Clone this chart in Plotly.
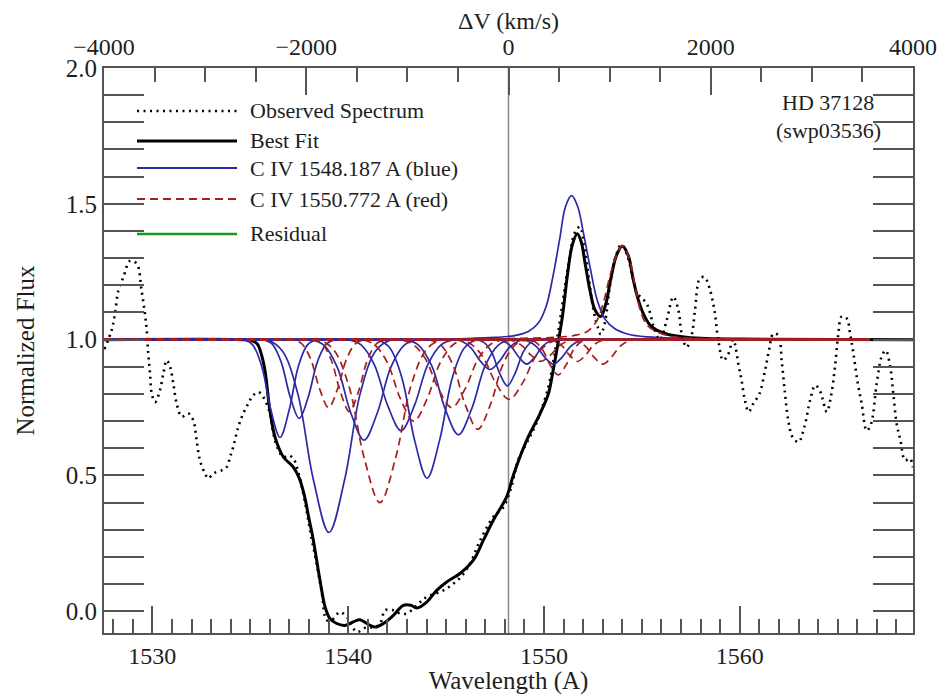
import plotly.graph_objects as go

# ---------------- constants / data ----------------
REST_BLUE = 1548.187          # C IV blue line rest wavelength (A) -> dV = 0
C_KMS = 299792.458
VEL_RANGE = [-4000, 4000]
WAVE_START = 1527.53
WAVE_END = 1568.85
COMP_END = 1566.65
BASE = 1.0

# observed spectrum (dotted)
OBS_X = [1527.55, 1527.92, 1528.09, 1528.26, 1528.52, 1528.86, 1529.2, 1529.45, 1529.62, 1529.71,
         1529.79, 1529.88, 1529.97, 1530.14, 1530.39, 1530.56, 1530.73, 1530.9, 1531.07, 1531.24,
         1531.5, 1531.84, 1532.09, 1532.26, 1532.43, 1532.69, 1532.86, 1533.11, 1533.54, 1533.8,
         1533.97, 1534.13, 1534.39, 1534.64, 1534.9, 1535.15, 1535.41, 1535.66, 1536.01, 1536.18,
         1536.4, 1536.69, 1536.99, 1537.25, 1537.42, 1537.6, 1537.85, 1538.1, 1538.4, 1538.65,
         1538.91, 1539.2, 1539.58, 1540.0, 1540.44, 1540.95, 1541.3, 1541.63, 1541.89, 1542.31,
         1542.65, 1543.0, 1543.68, 1544.02, 1544.87, 1545.38, 1545.8, 1546.23, 1546.74, 1547.41,
         1547.93, 1548.3, 1548.7, 1549.12, 1549.6, 1550.2, 1550.5, 1550.75, 1551.0, 1551.3,
         1551.55, 1551.83, 1552.05, 1552.3, 1552.55, 1552.75, 1552.9, 1553.1, 1553.35, 1553.6,
         1553.95, 1554.25, 1554.5, 1554.75, 1554.95, 1555.24, 1555.41, 1555.6, 1555.92, 1556.26,
         1556.6, 1556.86, 1557.03, 1557.28, 1557.54, 1557.71, 1557.96, 1558.2, 1558.45, 1558.7,
         1558.9, 1559.15, 1559.4, 1559.66, 1559.95, 1560.09, 1560.26, 1560.45, 1560.69, 1561.0,
         1561.29, 1561.5, 1561.71, 1561.97, 1562.14, 1562.31, 1562.48, 1562.7, 1563.0, 1563.3,
         1563.6, 1563.85, 1564.1, 1564.44, 1564.65, 1564.86, 1565.03, 1565.2, 1565.46, 1565.63,
         1565.8, 1566.0, 1566.22, 1566.48, 1566.7, 1566.99, 1567.24, 1567.45, 1567.67, 1567.84,
         1568.01, 1568.2, 1568.44, 1568.69, 1568.84]
OBS_Y = [0.965, 1.035, 1.096, 1.18, 1.23, 1.29, 1.28, 1.18, 1.096, 1.035,
         0.949, 0.875, 0.80, 0.77, 0.814, 0.875, 0.924, 0.90, 0.838, 0.765,
         0.716, 0.728, 0.703, 0.63, 0.556, 0.507, 0.489, 0.507, 0.519, 0.531,
         0.568, 0.605, 0.679, 0.728, 0.765, 0.795, 0.807, 0.789, 0.728, 0.654,
         0.60, 0.568, 0.574, 0.556, 0.519, 0.47, 0.38, 0.28, 0.17, 0.07,
         -0.033, -0.03, -0.003, -0.027, -0.076, -0.058, -0.06, -0.045, 0.004, 0.004,
         -0.008, -0.008, 0.034, 0.053, 0.077, 0.102, 0.13, 0.176, 0.261, 0.347,
         0.384, 0.45, 0.56, 0.62, 0.69, 0.82, 0.93, 1.04, 1.16, 1.30,
         1.39, 1.415, 1.35, 1.22, 1.10, 1.045, 1.02, 1.06, 1.19, 1.29,
         1.35, 1.31, 1.24, 1.17, 1.157, 1.133, 1.10, 1.047, 1.0, 1.07,
         1.157, 1.11, 1.022, 0.972, 1.016, 1.108, 1.225, 1.23, 1.19, 1.11,
         0.998, 0.924, 0.945, 1.0, 0.90, 0.85, 0.777, 0.734, 0.765, 0.80,
         0.887, 0.965, 1.022, 1.016, 0.92, 0.80, 0.70, 0.64, 0.623, 0.68,
         0.78, 0.832, 0.81, 0.734, 0.79, 0.90, 1.02, 1.085, 1.078, 1.022,
         0.95, 0.85, 0.765, 0.665, 0.69, 0.838, 0.937, 0.96, 0.905, 0.80,
         0.69, 0.63, 0.556, 0.562, 0.53]

# best fit (solid black)
FIT_X = [1527.53, 1534.6, 1535.0, 1535.35, 1535.55, 1535.75, 1536.0, 1536.26, 1536.69, 1537.2,
         1537.5, 1537.75, 1538.0, 1538.2, 1538.56, 1538.82, 1539.07, 1539.41, 1539.84, 1540.26,
         1540.6, 1540.95, 1541.37, 1541.8, 1542.31, 1542.82, 1543.2, 1543.5, 1544.01, 1544.52,
         1545.03, 1545.71, 1546.39, 1546.9, 1547.41, 1548.09, 1548.43, 1549.12, 1549.8, 1550.22,
         1550.45, 1550.7, 1550.95, 1551.2, 1551.45, 1551.7, 1551.9, 1552.1, 1552.35, 1552.6,
         1552.9, 1553.15, 1553.4, 1553.7, 1554.0, 1554.3, 1554.56, 1554.8, 1555.07, 1555.4,
         1555.75, 1556.3, 1556.95, 1558.0, 1560.0, 1568.85]
FIT_Y = [1.0, 1.0, 0.998, 0.985, 0.95, 0.887, 0.74, 0.642, 0.568, 0.531,
         0.49, 0.43, 0.34, 0.27, 0.114, 0.016, -0.027, -0.045, -0.052, -0.039,
         -0.031, -0.045, -0.058, -0.045, -0.015, 0.022, 0.022, 0.012, 0.034, 0.077,
         0.108, 0.139, 0.188, 0.261, 0.335, 0.421, 0.50, 0.63, 0.728, 0.80,
         0.88, 0.98, 1.09, 1.24, 1.35, 1.39, 1.36, 1.28, 1.18, 1.11,
         1.085, 1.13, 1.22, 1.31, 1.345, 1.31, 1.22, 1.15, 1.096, 1.055,
         1.035, 1.02, 1.012, 1.005, 1.002, 1.0]

# C IV 1548.187 components (solid blue): absorption dips
BLUE_ABS_X = [
    [1534.20, 1534.66, 1535.13, 1535.59, 1536.06, 1536.52, 1536.98, 1537.45, 1537.91, 1538.38, 1538.84],
    [1535.18, 1535.64, 1536.11, 1536.57, 1537.04, 1537.50, 1537.96, 1538.43, 1538.89, 1539.36, 1539.82],
    [1535.02, 1535.82, 1536.62, 1537.42, 1538.22, 1539.02, 1539.82, 1540.62, 1541.42, 1542.22, 1543.02],
    [1537.41, 1538.09, 1538.77, 1539.45, 1540.13, 1540.81, 1541.49, 1542.17, 1542.85, 1543.53, 1544.21],
    [1539.30, 1539.98, 1540.66, 1541.34, 1542.02, 1542.70, 1543.38, 1544.06, 1544.74, 1545.42, 1546.10],
    [1540.83, 1541.47, 1542.11, 1542.75, 1543.39, 1544.03, 1544.67, 1545.31, 1545.95, 1546.59, 1547.23],
    [1542.23, 1542.91, 1543.59, 1544.27, 1544.95, 1545.63, 1546.31, 1546.99, 1547.67, 1548.35, 1549.03],
    [1544.84, 1545.32, 1545.80, 1546.28, 1546.76, 1547.24, 1547.72, 1548.20, 1548.68, 1549.16, 1549.64],
    [1546.13, 1546.53, 1546.93, 1547.33, 1547.73, 1548.13, 1548.53, 1548.93, 1549.33, 1549.73, 1550.13],
    [1547.12, 1547.52, 1547.92, 1548.32, 1548.72, 1549.12, 1549.52, 1549.92, 1550.32, 1550.72, 1551.12],
    [1548.28, 1548.72, 1549.16, 1549.60, 1550.04, 1550.48, 1550.92, 1551.36, 1551.80, 1552.24, 1552.68],
]
BLUE_ABS_Y = [
    [1.0, 1.0, 0.980, 0.900, 0.739, 0.64, 0.739, 0.900, 0.980, 1.0, 1.0],
    [1.0, 1.0, 0.984, 0.919, 0.789, 0.71, 0.789, 0.919, 0.984, 1.0, 1.0],
    [1.0, 1.0, 0.960, 0.803, 0.485, 0.29, 0.485, 0.803, 0.960, 1.0, 1.0],
    [1.0, 1.0, 0.979, 0.897, 0.731, 0.63, 0.731, 0.897, 0.979, 1.0, 1.0],
    [1.0, 1.0, 0.981, 0.907, 0.757, 0.665, 0.757, 0.907, 0.981, 1.0, 1.0],
    [1.0, 1.0, 0.971, 0.858, 0.630, 0.49, 0.630, 0.858, 0.971, 1.0, 1.0],
    [1.0, 1.0, 0.980, 0.903, 0.746, 0.65, 0.746, 0.903, 0.980, 1.0, 1.0],
    [1.0, 1.0, 0.994, 0.969, 0.920, 0.89, 0.920, 0.969, 0.994, 1.0, 1.0],
    [1.0, 1.0, 0.990, 0.953, 0.877, 0.83, 0.877, 0.953, 0.990, 1.0, 1.0],
    [1.0, 1.0, 0.995, 0.975, 0.935, 0.91, 0.935, 0.975, 0.995, 1.0, 1.0],
    [1.0, 1.0, 0.995, 0.975, 0.935, 0.91, 0.935, 0.975, 0.995, 1.0, 1.0],
]
# blue emission component
BLUE_EM_X = [1527.53, 1543.0, 1546.0, 1547.5, 1548.5, 1549.2, 1549.7, 1550.1, 1550.45, 1550.8,
             1551.1, 1551.41, 1551.72, 1552.02, 1552.37, 1552.72, 1553.12, 1553.62, 1554.3, 1555.3,
             1557.0, 1560.0, 1566.65]
BLUE_EM_Y = [1.0, 1.001, 1.004, 1.008, 1.015, 1.03, 1.06, 1.12, 1.23, 1.37,
             1.49, 1.53, 1.49, 1.39, 1.26, 1.145, 1.075, 1.04, 1.02, 1.01,
             1.005, 1.002, 1.0]

# C IV 1550.772 components (dashed red): absorption dips
RED_ABS_X = [
    [1536.68, 1537.14, 1537.61, 1538.07, 1538.54, 1539.00, 1539.46, 1539.93, 1540.39, 1540.86, 1541.32],
    [1537.74, 1538.20, 1538.67, 1539.13, 1539.60, 1540.06, 1540.52, 1540.99, 1541.45, 1541.92, 1542.38],
    [1537.62, 1538.42, 1539.22, 1540.02, 1540.82, 1541.62, 1542.42, 1543.22, 1544.02, 1544.82, 1545.62],
    [1539.95, 1540.63, 1541.31, 1541.99, 1542.67, 1543.35, 1544.03, 1544.71, 1545.39, 1546.07, 1546.75],
    [1541.89, 1542.57, 1543.25, 1543.93, 1544.61, 1545.29, 1545.97, 1546.65, 1547.33, 1548.01, 1548.69],
    [1543.42, 1544.06, 1544.70, 1545.34, 1545.98, 1546.62, 1547.26, 1547.90, 1548.54, 1549.18, 1549.82],
    [1544.82, 1545.50, 1546.18, 1546.86, 1547.54, 1548.22, 1548.90, 1549.58, 1550.26, 1550.94, 1551.62],
    [1547.43, 1547.91, 1548.39, 1548.87, 1549.35, 1549.83, 1550.31, 1550.79, 1551.27, 1551.75, 1552.23],
    [1548.72, 1549.12, 1549.52, 1549.92, 1550.32, 1550.72, 1551.12, 1551.52, 1551.92, 1552.32, 1552.72],
    [1549.71, 1550.11, 1550.51, 1550.91, 1551.31, 1551.71, 1552.11, 1552.51, 1552.91, 1553.31, 1553.71],
    [1550.80, 1551.24, 1551.68, 1552.12, 1552.56, 1553.00, 1553.44, 1553.88, 1554.32, 1554.76, 1555.20],
]
RED_ABS_Y = [
    [1.0, 1.0, 0.986, 0.931, 0.819, 0.75, 0.819, 0.931, 0.986, 1.0, 1.0],
    [1.0, 1.0, 0.985, 0.926, 0.808, 0.735, 0.808, 0.926, 0.985, 1.0, 1.0],
    [1.0, 1.0, 0.966, 0.833, 0.564, 0.40, 0.564, 0.833, 0.966, 1.0, 1.0],
    [1.0, 1.0, 0.983, 0.917, 0.782, 0.70, 0.782, 0.917, 0.983, 1.0, 1.0],
    [1.0, 1.0, 0.986, 0.931, 0.819, 0.75, 0.819, 0.931, 0.986, 1.0, 1.0],
    [1.0, 1.0, 0.982, 0.908, 0.760, 0.67, 0.760, 0.908, 0.982, 1.0, 1.0],
    [1.0, 1.0, 0.988, 0.939, 0.840, 0.78, 0.840, 0.939, 0.988, 1.0, 1.0],
    [1.0, 1.0, 0.996, 0.978, 0.942, 0.92, 0.942, 0.978, 0.996, 1.0, 1.0],
    [1.0, 1.0, 0.993, 0.964, 0.906, 0.87, 0.906, 0.964, 0.993, 1.0, 1.0],
    [1.0, 1.0, 0.996, 0.978, 0.942, 0.92, 0.942, 0.978, 0.996, 1.0, 1.0],
    [1.0, 1.0, 0.995, 0.975, 0.935, 0.91, 0.935, 0.975, 0.995, 1.0, 1.0],
]
# red emission component
RED_EM_X = [1527.53, 1546.0, 1549.0, 1550.5, 1551.5, 1552.2, 1552.7, 1553.05, 1553.35, 1553.7,
            1554.0, 1554.3, 1554.62, 1554.95, 1555.3, 1555.75, 1556.4, 1557.3, 1559.0, 1562.0,
            1566.65]
RED_EM_Y = [1.0, 1.002, 1.005, 1.008, 1.015, 1.03, 1.07, 1.14, 1.23, 1.31,
            1.345, 1.31, 1.21, 1.10, 1.05, 1.03, 1.013, 1.006, 1.003, 1.001,
            1.0]

LEGEND_LABELS = ["Observed Spectrum", "Best Fit", "C IV 1548.187 A (blue)",
                 "C IV 1550.772 A (red)", "Residual"]
STAR_LABEL = ["HD 37128", "(swp03536)"]

# ---------------- styles ----------------
FONT = "Liberation Serif"
TXT = "#1e1e1e"
AXC = "#555555"
BLUE = "#2a2aa6"
RED = "#a61e1e"
GREEN = "#1a9a1a"
DOT = "2px,4.5px"
DASH = "8px,5px"

fig = go.Figure()

fig.add_trace(go.Scatter(x=OBS_X, y=OBS_Y, mode="lines", line=dict(color="black", width=2.6, dash=DOT, shape="spline"),
                         name=LEGEND_LABELS[0], hoverinfo="skip"))
fig.add_trace(go.Scatter(x=FIT_X, y=FIT_Y, mode="lines", line=dict(color="black", width=3, shape="spline"),
                         name=LEGEND_LABELS[1]))

for xs, ys in zip(BLUE_ABS_X, BLUE_ABS_Y):
    fig.add_trace(go.Scatter(x=[WAVE_START] + xs + [COMP_END], y=[BASE] + ys + [BASE], mode="lines",
                             line=dict(color=BLUE, width=1.7, shape="spline"), name=LEGEND_LABELS[2]))
fig.add_trace(go.Scatter(x=BLUE_EM_X, y=BLUE_EM_Y, mode="lines",
                         line=dict(color=BLUE, width=1.7, shape="spline"), name=LEGEND_LABELS[2]))

for xs, ys in zip(RED_ABS_X, RED_ABS_Y):
    fig.add_trace(go.Scatter(x=[WAVE_START] + xs + [COMP_END], y=[BASE] + ys + [BASE], mode="lines",
                             line=dict(color=RED, width=1.7, dash=DASH, shape="spline"), name=LEGEND_LABELS[3]))
fig.add_trace(go.Scatter(x=RED_EM_X, y=RED_EM_Y, mode="lines",
                         line=dict(color=RED, width=1.7, dash=DASH, shape="spline"), name=LEGEND_LABELS[3]))

# invisible trace to carry the velocity axis
fig.add_trace(go.Scatter(x=VEL_RANGE, y=[BASE, BASE], xaxis="x2", mode="lines",
                         line=dict(width=0), opacity=0, hoverinfo="skip"))

x_lo = REST_BLUE * (1 + VEL_RANGE[0] / C_KMS)
x_hi = REST_BLUE * (1 + VEL_RANGE[1] / C_KMS)

# page body has an 8px margin, so the figure is 937x687 to fill the 945x695 window
fig.update_layout(
    width=937, height=687,
    margin=dict(l=96, r=32, t=60, b=62),
    paper_bgcolor="white", plot_bgcolor="white",
    showlegend=False,
    font=dict(family=FONT, size=25, color=TXT),
    xaxis=dict(range=[x_lo, x_hi], showline=True, linecolor=AXC, linewidth=2, mirror=False,
               ticks="inside", ticklen=27, tickwidth=1.5, tickcolor=AXC, tick0=1530, dtick=10,
               tickfont=dict(size=24),
               minor=dict(ticks="inside", ticklen=14, dtick=1, tick0=1530, tickcolor=AXC, tickwidth=1.5),
               showgrid=False, zeroline=False, automargin=False,
               title=dict(text="Wavelength (A)", font=dict(size=25), standoff=6)),
    xaxis2=dict(range=VEL_RANGE, overlaying="x", side="top", anchor="y",
                showline=True, linecolor=AXC, linewidth=2, automargin=False,
                ticks="inside", ticklen=27, tickwidth=1.5, tickcolor=AXC, tick0=0, dtick=2000,
                ticklabelstandoff=1, tickfont=dict(size=24),
                minor=dict(ticks="inside", ticklen=14, dtick=500, tickcolor=AXC, tickwidth=1.5),
                showgrid=False, zeroline=False,
                title=dict(text="ΔV (km/s)", font=dict(size=24), standoff=9)),
    yaxis=dict(range=[-0.08, 2.0], showline=True, linecolor=AXC, linewidth=2, mirror="allticks",
               ticks="inside", ticklen=40, tickwidth=1.5, tickcolor=AXC, tick0=0, dtick=0.5,
               tickformat=".1f", automargin=False,
               minor=dict(ticks="inside", ticklen=20, dtick=0.1, tick0=0, tickcolor=AXC, tickwidth=1.5),
               showgrid=False, zeroline=False,
               title=dict(text="Normalized Flux", font=dict(size=25), standoff=24)),
)

# rest-velocity marker
fig.add_shape(type="line", xref="x", yref="paper", x0=REST_BLUE, x1=REST_BLUE, y0=0, y1=1,
              line=dict(color="#8a8a8a", width=1.5), layer="below")

# hand-drawn legend
leg_styles = [dict(color="black", width=2.6, dash=DOT),
              dict(color="black", width=3),
              dict(color=BLUE, width=2),
              dict(color=RED, width=2, dash=DASH),
              dict(color=GREEN, width=2.5)]
leg_y = [0.9239, 0.8708, 0.8230, 0.7681, 0.7062]
for lab, st, yy in zip(LEGEND_LABELS, leg_styles, leg_y):
    fig.add_shape(type="line", xref="paper", yref="paper", x0=0.0408, x1=0.1644, y0=yy, y1=yy, line=st)
    fig.add_annotation(text=lab, xref="paper", yref="paper", x=0.178, y=yy, xanchor="left", yanchor="middle",
                       showarrow=False, font=dict(size=22, color=TXT))

fig.add_annotation(text=STAR_LABEL[0], xref="paper", yref="paper", x=0.895, y=0.9398,
                   xanchor="center", yanchor="middle", showarrow=False, font=dict(size=22, color=TXT))
fig.add_annotation(text=STAR_LABEL[1], xref="paper", yref="paper", x=0.895, y=0.8885,
                   xanchor="center", yanchor="middle", showarrow=False, font=dict(size=22, color=TXT))

fig.write_html("out.html")
